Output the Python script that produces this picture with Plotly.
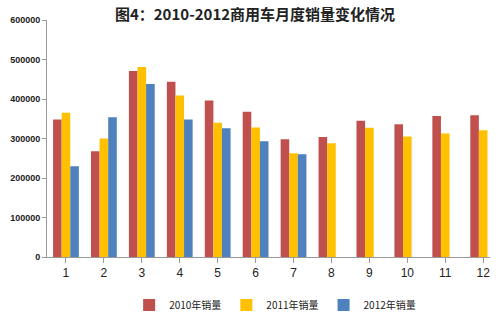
import plotly.graph_objects as go

months = [str(i) for i in range(1, 13)]
sales_2010 = [348000, 268000, 471000, 444000, 396000, 368000, 298000, 304000, 345000, 336000, 357000, 359000]
sales_2011 = [365000, 300000, 481000, 409000, 340000, 328000, 263000, 288000, 327000, 305000, 313000, 321000]
sales_2012 = [230000, 354000, 438000, 348000, 326000, 293000, 260000]
names = ["2010年销量", "2011年销量", "2012年销量"]
colors = ["#C0504D", "#FFC000", "#4F81BD"]
ytick_vals = [0, 100000, 200000, 300000, 400000, 500000, 600000]

fig = go.Figure()
for name, vals, c in zip(names, [sales_2010, sales_2011, sales_2012], colors):
    fig.add_trace(go.Bar(x=list(range(1, len(vals) + 1)), y=vals, name=name,
                         marker=dict(color=c, line=dict(width=0))))

fig.update_layout(
    width=500, height=322,
    margin=dict(l=46, r=10, t=20, b=63),
    paper_bgcolor="white", plot_bgcolor="white",
    barmode="group", bargap=0.32, bargroupgap=0,
    title=dict(text="<b>图4：2010-2012商用车月度销量变化情况</b>", x=0.51, xanchor="center",
               y=0.955, yanchor="middle",
               font=dict(family="Noto Sans CJK SC", size=15, color="#222")),
    xaxis=dict(range=[0.5, 12.18], tickvals=list(range(1, 13)), ticktext=months,
               showline=True, linecolor="#999", linewidth=1, ticks="outside",
               tickson="boundaries", ticklen=5, tickcolor="#999", showgrid=False,
               tickfont=dict(family="Liberation Sans", size=12, color="#222")),
    yaxis=dict(range=[0, 600000], tickvals=ytick_vals, ticktext=[f"<b>{v}</b>" for v in ytick_vals],
               showline=True, linecolor="#999", linewidth=1, ticks="outside", ticklen=4,
               tickcolor="#999", showgrid=False, zeroline=False,
               tickfont=dict(family="Liberation Sans", size=9, color="#222")),
    legend=dict(orientation="h", x=0.515, xanchor="center", yref="container", y=0.053,
                yanchor="middle",
                font=dict(family="Noto Sans CJK SC", size=10, color="#222"),
                itemwidth=30, tracegroupgap=0),
    showlegend=True,
)

fig.write_html("out.html")
